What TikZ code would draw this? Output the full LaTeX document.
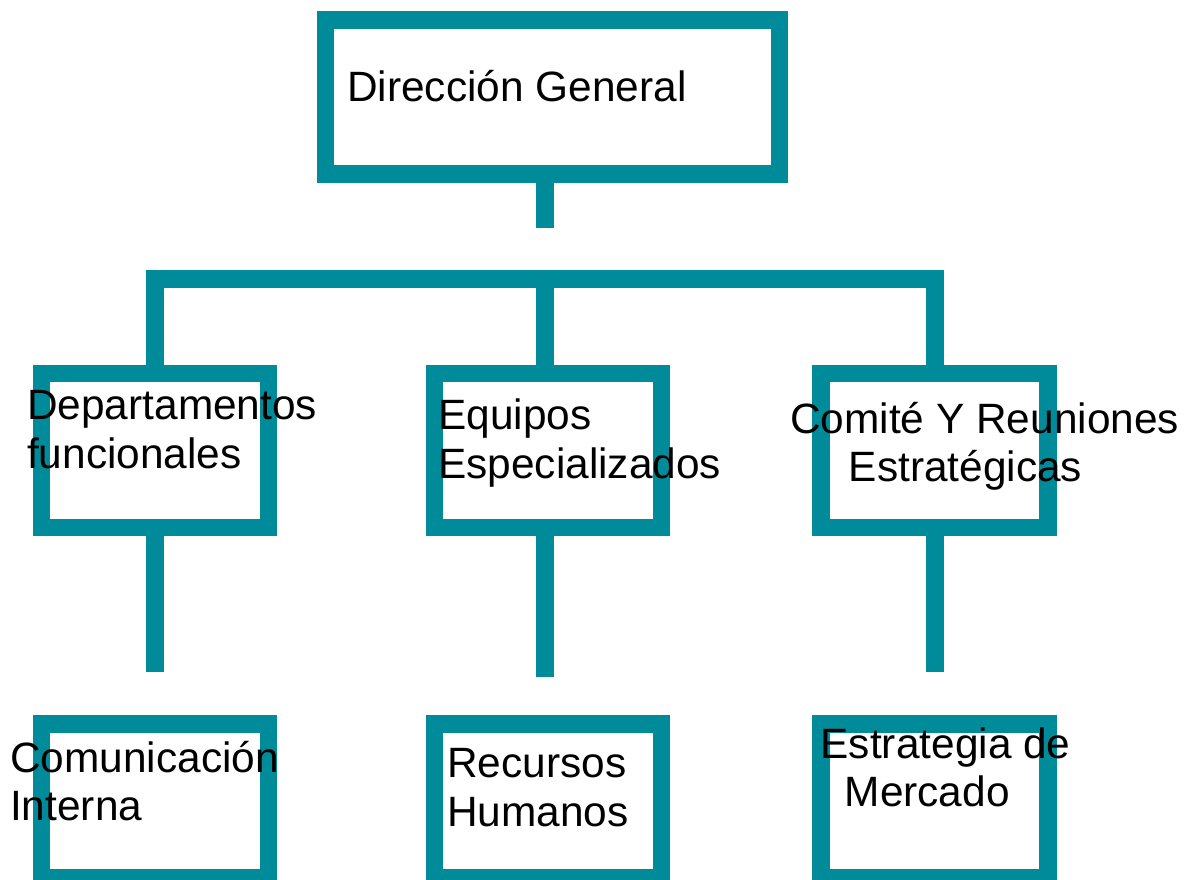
\documentclass[tikz,border=0pt]{standalone}
\usepackage{fontspec}
\setmainfont{Liberation Sans}
\usepackage{tikz}
\definecolor{orgteal}{RGB}{0,139,154}

\begin{document}
\begin{tikzpicture}[x=1pt,y=-1pt,
    orgbox/.style={draw=orgteal, line width=17.5pt, rectangle, inner sep=0pt,
      minimum width=227pt, minimum height=154pt},
    orglink/.style={draw=orgteal, line width=17.5pt, line join=miter},
    orgtext/.style={anchor=base west, align=left, inner sep=0pt,
      font=\fontsize{42.4}{48.5}\selectfont}]
    \useasboundingbox (0,0) rectangle (1197,879);
    % Boxes
    \node[orgbox, minimum width=454pt] (dir) at (552.5,97) {};
    \node[orgbox] (dep) at (154.75,450.35) {};
    \node[orgbox] (eqp) at (548,450.35) {};
    \node[orgbox] (com) at (934.5,450.35) {};
    \node[orgbox] (cin) at (154.75,801) {};
    \node[orgbox] (rrh) at (548,801) {};
    \node[orgbox] (est) at (934.5,801) {};
    % Connectors
    \coordinate (hub) at (545,279);
    \coordinate (dirend) at (545,228);
    \coordinate (depend) at (155,671.7);
    \coordinate (eqpend) at (545,677.3);
    \coordinate (comend) at (935,671.7);
    \draw[orglink] (dir.south -| hub) -- (dirend);
    \draw[orglink] (dep.north -| depend) -- (depend |- hub) -- (comend |- hub) -- (com.north -| comend);
    \draw[orglink] (eqp.north -| hub) -- (hub);
    \draw[orglink] (dep.south -| depend) -- (depend);
    \draw[orglink] (eqp.south -| hub) -- (eqpend);
    \draw[orglink] (com.south -| comend) -- (comend);
    % Labels (base = last line)
    \node[orgtext] (tdir) at (347,101.7) {Dirección General};
    \node[orgtext] (tdep) at (27,468.4) {Departamentos\\funcionales};
    \node[orgtext] (teqp) at (438,478.4) {Equipos\\Especializados};
    \node[orgtext] (tcom) at (790,481.7) {Comité Y Reuniones\\\hspace*{58.7pt}Estratégicas};
    \node[orgtext] (tcin) at (10,820.5) {Comunicación\\Interna};
    \node[orgtext] (trrh) at (447,826.2) {Recursos\\Humanos};
    \node[orgtext] (test) at (820.5,806.7) {Estrategia de\\\hspace*{24pt}Mercado};
\end{tikzpicture}
\end{document}
